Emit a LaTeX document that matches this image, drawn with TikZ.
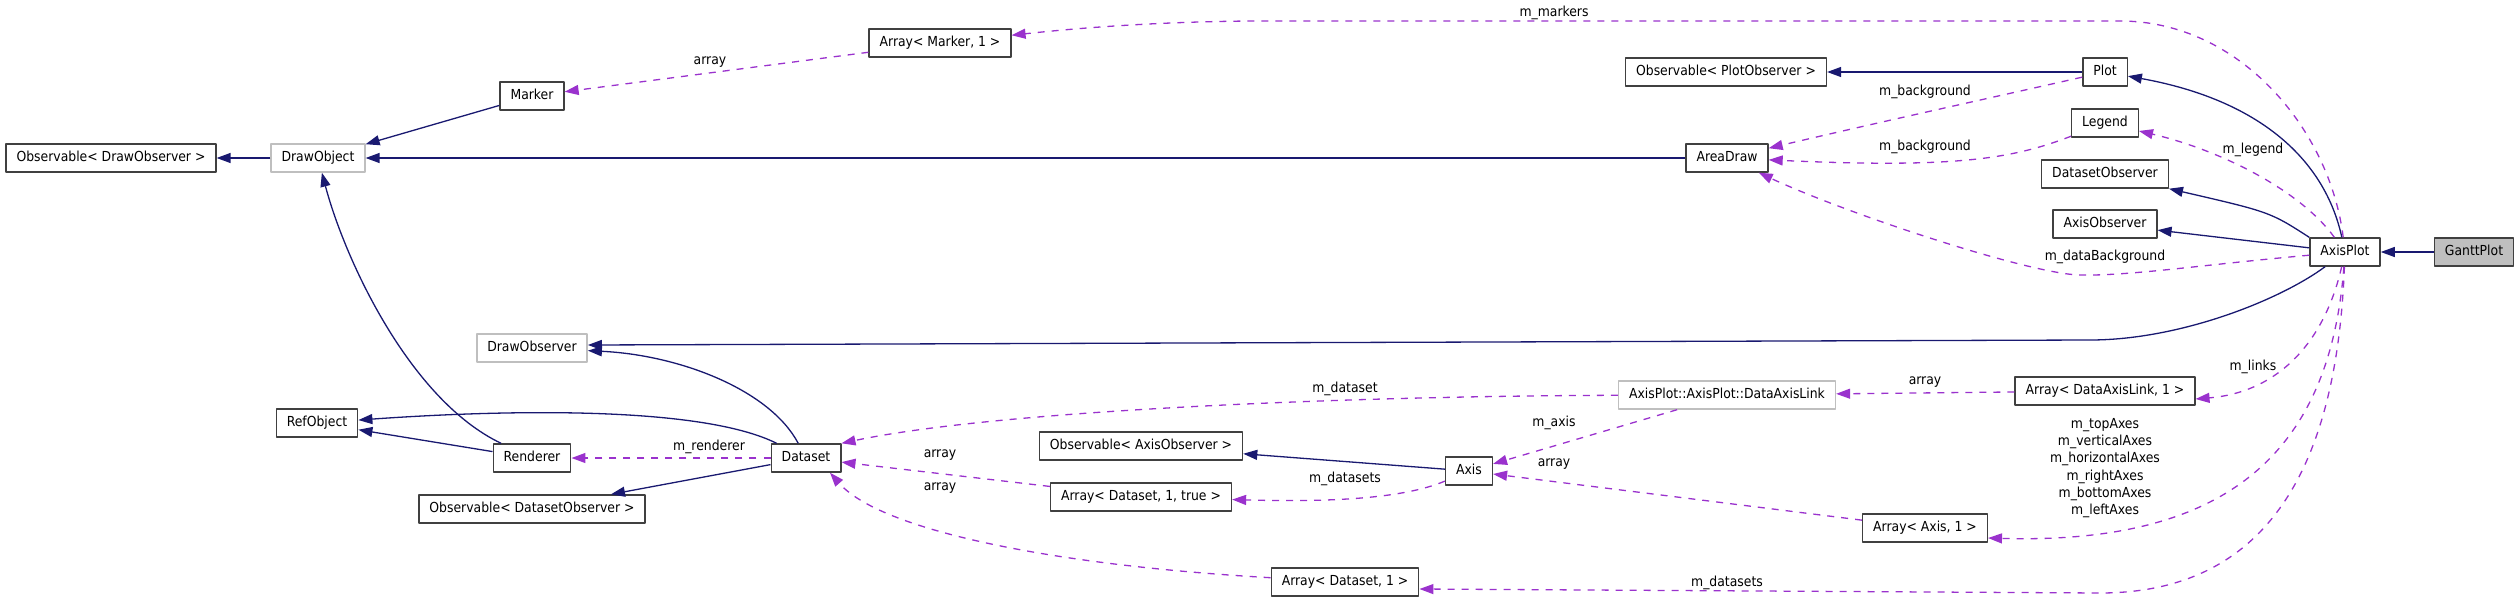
\documentclass[tikz,border=0pt]{standalone}
\usepackage{fontspec}
\usetikzlibrary{arrows.meta}
\newfontfamily\docfamily{DejaVu Sans Condensed}
\newcommand{\docfont}{\docfamily\fontsize{13.8pt}{17.2pt}\selectfont}
\definecolor{inhblue}   {RGB}{ 25, 25,112}
\definecolor{useviolet} {RGB}{154, 50,205}
\definecolor{boxgray}   {RGB}{ 64, 64, 64}
\definecolor{dimgray}   {RGB}{191,191,191}
\definecolor{selfgray}  {RGB}{191,191,191}
\tikzset{
  %% class boxes
  cls/.style={
    draw=boxgray, line width=1.4pt, fill=white,
    inner xsep=10.5pt, inner ysep=0pt,
    minimum height=28pt, text height=10pt, text depth=3pt,
    font=\docfont
  },
  clsdim/.style={cls, draw=dimgray},
  clsself/.style={cls, fill=selfgray},
  %% connectors
  inh/.style={
    draw=inhblue, line width=1.3pt,
    -{Triangle[length=14pt,width=10pt]}
  },
  use/.style={
    draw=useviolet, line width=1.3pt,
    dash pattern=on 7pt off 7pt,
    -{Triangle[length=14pt,width=10pt]}
  },
  lbl/.style={font=\docfont, inner sep=0pt, text height=10pt, text depth=3pt},
  lblstack/.style={font=\docfont, inner sep=0pt, align=center},
}

\begin{document}
\begin{tikzpicture}[x=1pt, y=-1pt, line cap=butt, line join=round]

  \useasboundingbox (0,0) rectangle (2520,600);

  %% ── Classes ───────────────────────────────────────────────────────────
  \node[cls]     (odo)       at (111,158)  {Observable< DrawObserver >};
  \node[clsdim]  (drawobj)   at (318,158)  {DrawObject};
  \node[cls]     (marker)    at (532,96)   {Marker};
  \node[cls]     (arrmarker) at (940,43)   {Array< Marker, 1 >};
  \node[cls]     (opo)       at (1726,72)  {Observable< PlotObserver >};
  \node[cls]     (plot)      at (2105,72)  {Plot};
  \node[cls]     (legend)    at (2105,123) {Legend};
  \node[cls]     (areadraw)  at (1727,158) {AreaDraw};
  \node[cls]     (dsobs)     at (2105,174) {DatasetObserver};
  \node[cls]     (axobs)     at (2105,224) {AxisObserver};
  \node[cls]     (axisplot)  at (2345,252) {AxisPlot};
  \node[clsself] (gantt)     at (2474,252) {GanttPlot};
  \node[clsdim]  (drawobs)   at (532,348)  {DrawObserver};
  \node[cls]     (refobj)    at (317,423)  {RefObject};
  \node[cls]     (renderer)  at (532,458)  {Renderer};
  \node[cls]     (dataset)   at (806,458)  {Dataset};
  \node[cls]     (ods)       at (532,509)  {Observable< DatasetObserver >};
  \node[cls]     (oao)       at (1141,446) {Observable< AxisObserver >};
  \node[cls]     (arrdst)    at (1141,497) {Array< Dataset, 1, true >};
  \node[cls]     (axis)      at (1469,471) {Axis};
  \node[clsdim]  (dal)       at (1727,395) {AxisPlot::AxisPlot::DataAxisLink};
  \node[cls]     (arrds)     at (1345,582) {Array< Dataset, 1 >};
  \node[cls]     (arrdal)    at (2105,391) {Array< DataAxisLink, 1 >};
  \node[cls]     (arraxis)   at (1925,528) {Array< Axis, 1 >};

  %% ── Inheritance ───────────────────────────────────────────────────────
  \draw[inh] (drawobj) -- (odo);
  \draw[inh] (marker) -- (drawobj);
  \draw[inh] (areadraw) -- (drawobj);
  \draw[inh] (renderer) .. controls (410,400) and (345,260) .. (drawobj);
  \draw[inh] (renderer) -- (refobj);
  \draw[inh] (dataset) .. controls (700,405) and (500,410) .. (refobj);
  \draw[inh] (dataset) .. controls (770,390) and (680,355) .. (drawobs);
  \draw[inh] (dataset) -- (ods);
  \draw[inh] (plot) -- (opo);
  \draw[inh] (axisplot) .. controls (2325,160) and (2260,100) .. (plot);
  \draw[inh] (axisplot.north west) .. controls (2270,212) .. (dsobs.south east);
  \draw[inh] (axisplot) -- (axobs);
  \draw[inh] (axisplot) .. controls (2280,300) and (2180,340) .. (2090,340)
        -- ([yshift=3pt]drawobs.east);
  \draw[inh] (gantt) -- (axisplot);
  \draw[inh] (axis) -- (oao);

  %% ── Usage ─────────────────────────────────────────────────────────────
  \draw[use] (arrmarker) -- (marker);
  \draw[use] (axisplot) .. controls (2330,130) and (2240,21) .. (2120,21)
        -- (1250,21) .. controls (1140,22) and (1060,30) .. (arrmarker);
  \draw[use] (plot) .. controls (1990,98) and (1880,122) .. (areadraw);
  \draw[use] (legend) .. controls (2010,160) and (1950,168) .. (areadraw);
  \draw[use] (axisplot) .. controls (2300,190) and (2220,150) .. (legend);
  \draw[use] (axisplot) .. controls (2200,265) and (2130,276) .. (2080,275)
        .. controls (2030,274) and (1850,215) .. (areadraw);
  \draw[use] (dal) .. controls (1350,396) and (1000,410) .. (dataset.north east);
  \draw[use] (dal) -- (axis);
  \draw[use] (arrdal) -- (dal);
  \draw[use] (axisplot) .. controls (2325,340) and (2280,392)
        .. ([yshift=-8pt]arrdal.east);
  \draw[use] (axisplot) .. controls (2330,450) and (2230,545)
        .. ([yshift=-10pt]arraxis.east);
  \draw[use] (arraxis) -- (axis);
  \draw[use] (axis) .. controls (1400,500) and (1320,502) .. (arrdst);
  \draw[use] (arrdst) -- (dataset);
  \draw[use] (arrds) .. controls (1050,565) and (880,530)
        .. ([xshift=24pt]dataset.south);
  \draw[use] (axisplot) .. controls (2338,430) and (2290,593) .. (2100,593)
        -- ([yshift=-7pt]arrds.east);
  \draw[use] (dataset) -- (renderer);

  %% ── Edge labels ───────────────────────────────────────────────────────
  \node[lbl] (lmarkarr)  at (710,61)   {array};
  \node[lbl] (lmarkers)  at (1554,13)  {m\_markers};
  \node[lbl] (lplotbg)   at (1925,92)  {m\_background};
  \node[lbl] (llegbg)    at (1925,147) {m\_background};
  \node[lbl] (llegend)   at (2253,150) {m\_legend};
  \node[lbl] (ldatabg)   at (2105,257) {m\_dataBackground};
  \node[lbl] (ldataset)  at (1345,389) {m\_dataset};
  \node[lbl] (laxis)     at (1554,423) {m\_axis};
  \node[lbl] (ldalarr)   at (1925,381) {array};
  \node[lbl] (llinks)    at (2253,367) {m\_links};
  \node[lblstack] (laxes) at (2105,468)
        {m\_topAxes\\m\_verticalAxes\\m\_horizontalAxes\\m\_rightAxes\\m\_bottomAxes\\m\_leftAxes};
  \node[lbl] (laxisarr)  at (1554,463) {array};
  \node[lbl] (laxds)     at (1345,479) {m\_datasets};
  \node[lbl] (ldstarr)   at (940,454)  {array};
  \node[lbl] (ldsarr)    at (940,487)  {array};
  \node[lbl] (lplotds)   at (1727,583) {m\_datasets};
  \node[lbl] (lrenderer) at (709,447)  {m\_renderer};

\end{tikzpicture}
\end{document}
